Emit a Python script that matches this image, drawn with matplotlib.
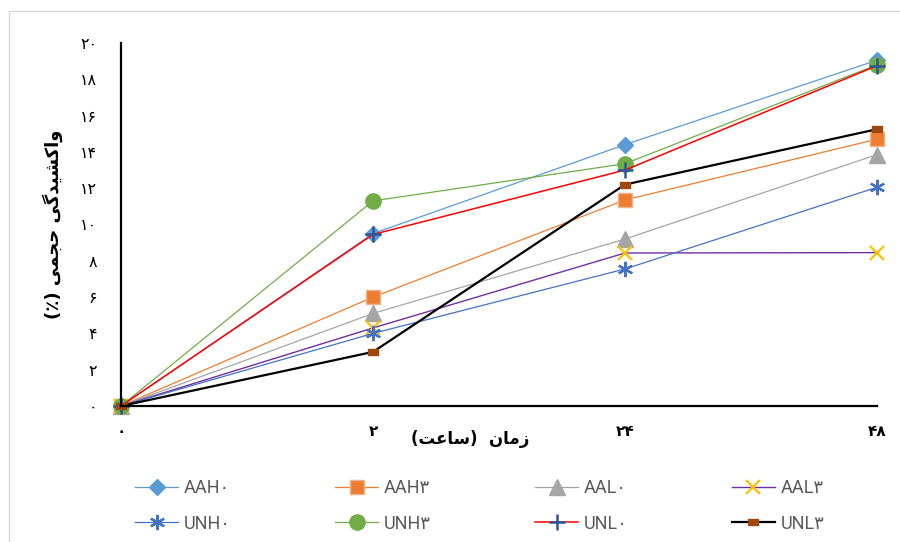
import matplotlib
matplotlib.use("Agg")
import matplotlib.pyplot as plt
from matplotlib.patches import Rectangle

# categories (equally spaced, Persian digits)
hours = ["۰", "۲", "۲۴", "۴۸"]
y_ticks = [0, 2, 4, 6, 8, 10, 12, 14, 16, 18, 20]
y_tick_labels = ["۰", "۲", "۴", "۶", "۸", "۱۰", "۱۲", "۱۴", "۱۶", "۱۸", "۲۰"]

# swelling values (%) per series
aah0 = [0, 9.5, 14.4, 19.05]
aah3 = [0, 6.0, 11.35, 14.7]
aal0 = [0, 5.1, 9.2, 13.85]
aal3 = [0, 4.3, 8.43, 8.45]
unh0 = [0, 4.0, 7.55, 12.05]
unh3 = [0, 11.3, 13.35, 18.8]
unl0 = [0, 9.45, 13.0, 18.75]
unl3 = [0, 2.98, 12.2, 15.25]

series_names = ["AAH۰", "AAH۳", "AAL۰", "AAL۳", "UNH۰", "UNH۳", "UNL۰", "UNL۳"]

# pre-shaped Persian strings (visual order, presentation forms)
y_label = "(٪) " + "\uFBFD\uFEE4\uFEA0\uFEA3" + " " + \
    "\uFBFD\uFB94\uFEAA\uFBFF\uFEB8\uFB90\uFE8D\uFEED"
x_label = "(" + "\uFE96\uFECB\uFE8E\uFEB3" + ")" + "  " + "\uFEE5\uFE8E\uFEE3\uFEAF"

dash = [(-1, -0.55), (1, -0.55), (1, 0.55), (-1, 0.55), (-1, -0.55)]

styles = [
    dict(color="#5B9BD5", lw=0.9, marker="D", ms=8, mfc="#5B9BD5", mec="#5B9BD5"),
    dict(color="#ED7D31", lw=0.9, marker="s", ms=10, mfc="#ED7D31", mec="#F4B183"),
    dict(color="#A5A5A5", lw=0.9, marker="^", ms=11, mfc="#A5A5A5", mec="#A5A5A5"),
    dict(color="#7030A0", lw=1.0, marker="x", ms=10, mfc="#FFC000", mec="#FFC000", mew=1.6),
    dict(color="#4472C4", lw=0.9, marker=(6, 2, 0), ms=11, mfc="#4472C4", mec="#4472C4", mew=1.6),
    dict(color="#70AD47", lw=0.9, marker="o", ms=11, mfc="#70AD47", mec="#70AD47"),
    dict(color="#FF0000", lw=1.1, marker="+", ms=11, mfc="#264478", mec="#2F5597", mew=1.8),
    dict(color="#000000", lw=1.6, marker=dash, ms=7, mfc="#9E480E", mec="#9E480E"),
]

data = [aah0, aah3, aal0, aal3, unh0, unh3, unl0, unl3]

fig = plt.figure(figsize=(9, 5.42), dpi=100)
fig.patches.append(Rectangle((9 / 900, -0.1), 1.2, 1 - 11 / 542 + 0.1,
                             transform=fig.transFigure, fill=False,
                             edgecolor="#D9D9D9", lw=1.0))
ax = fig.add_axes([121 / 900, 1 - 406 / 542, 756 / 900, 363 / 542])

x = list(range(len(hours)))
lines = []
for name, vals, st in zip(series_names, data, styles):
    (ln,) = ax.plot(x, vals, label=name, **st, clip_on=False)
    lines.append(ln)

ax.set_xlim(0, 3)
ax.set_ylim(0, 20)
ax.set_xticks(x, hours, fontsize=11, fontweight="bold", family="DejaVu Sans")
ax.set_yticks(y_ticks, y_tick_labels, fontsize=11.5, family="DejaVu Sans")
ax.tick_params(length=0)
ax.tick_params(axis="y", pad=17)
ax.tick_params(axis="x", pad=13)
for s in ("top", "right"):
    ax.spines[s].set_visible(False)
for s in ("left", "bottom"):
    ax.spines[s].set_linewidth(1.6)

ax.set_ylabel(y_label, fontsize=13, fontweight="bold", family="DejaVu Sans", labelpad=12)
ax.text(1.385, -0.065, x_label, transform=ax.get_xaxis_transform(), ha="center", va="top",
        fontsize=12, fontweight="bold", family="DejaVu Sans")

# legend is filled column by column, so interleave to get row-major order
order = [0, 4, 1, 5, 2, 6, 3, 7]
fig.legend([lines[i] for i in order], [series_names[i] for i in order],
           ncol=4, loc="center left", bbox_to_anchor=(135 / 900, 1 - 506 / 542),
           frameon=False, prop={"family": ["Roboto", "DejaVu Sans"], "size": 13},
           borderpad=0, borderaxespad=0,
           handlelength=2.4, handletextpad=0.3, columnspacing=5.78, labelspacing=0.95,
           labelcolor="#595959")

fig.savefig("out.png", dpi=100)
